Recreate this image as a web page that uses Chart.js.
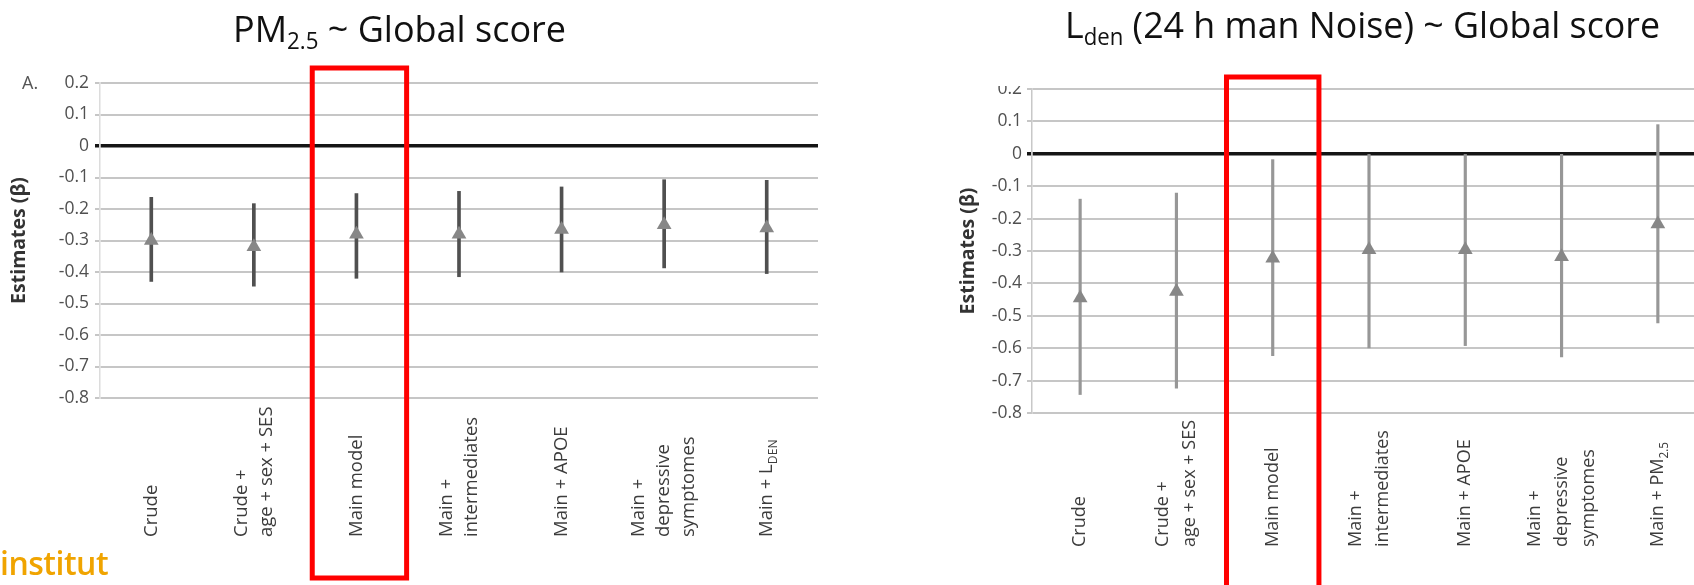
<!DOCTYPE html>
<html>
<head>
<meta charset="utf-8">
<script src="https://cdn.jsdelivr.net/npm/chart.js@4.4.1/dist/chart.umd.min.js"></script>
<style>
html, body { margin: 0; padding: 0; background: #fff; }
body { width: 1694px; height: 585px; overflow: hidden; position: relative; }
canvas { position: absolute; top: 0; }
#chartA { left: 0; }
#chartB { left: 850px; }
.ttl { position: absolute; font-family: "Open Sans", sans-serif; font-size: 37px; color: #111; white-space: nowrap; line-height: 1; transform-origin: 0 0; }
.ttl sub { font-size: 0.62em; vertical-align: -0.32em; line-height: 0; }
#ttlA { left: 233px; top: 9px; }
#ttlB { left: 1065px; top: 5px; }
#markA { position: absolute; left: 22px; top: 70px; font: 18px "Open Sans", sans-serif; color: #555; }
#inst { position: absolute; left: 0; top: 541px; font: 600 32px "Open Sans", sans-serif; color: #f0a400; letter-spacing: -0.5px; }
#cut { position: absolute; left: 930px; top: 60px; width: 100px; height: 26px; background: #fff; }
</style>
</head>
<body>
<canvas id="chartA" width="840" height="585"></canvas>
<canvas id="chartB" width="900" height="585"></canvas>
<div id="cut"></div>
<div class="ttl" id="ttlA" data-w="333">PM<sub>2.5</sub> ~ Global score</div>
<div class="ttl" id="ttlB" data-w="595">L<sub>den</sub> (24 h man Noise) ~ Global score</div>
<div id="markA">A.</div>
<div id="inst">institut</div>
<script>
// categories (one array per label, one string per line, _{..} = subscript)
const categoriesA = [["Crude"], ["Crude +", "age + sex + SES"], ["Main model"], ["Main +", "intermediates"], ["Main + APOE"], ["Main +", "depressive", "symptomes"], ["Main + L_{DEN}"]];
const categoriesB = [["Crude"], ["Crude +", "age + sex + SES"], ["Main model"], ["Main +", "intermediates"], ["Main + APOE"], ["Main +", "depressive", "symptomes"], ["Main + PM_{2.5}"]];

// PM2.5 estimates and 95% CI
const estimateA = [-0.30, -0.32, -0.28, -0.28, -0.265, -0.25, -0.26];
const lowerA = [-0.43, -0.445, -0.42, -0.415, -0.40, -0.387, -0.405];
const upperA = [-0.163, -0.183, -0.151, -0.144, -0.13, -0.107, -0.109];

// Lden estimates and 95% CI
const estimateB = [-0.445, -0.425, -0.322, -0.296, -0.296, -0.318, -0.217];
const lowerB = [-0.743, -0.723, -0.623, -0.599, -0.592, -0.627, -0.522];
const upperB = [-0.14, -0.121, -0.018, -0.002, -0.002, -0.002, 0.09];

// y axis
const yMin = -0.8, yMax = 0.2, yStep = 0.1;

// squeeze the titles to the width they have in the picture
document.querySelectorAll('.ttl').forEach(function(el) {
	const w = el.getBoundingClientRect().width;
	el.style.transform = 'scaleX(' + (el.dataset.w / w) + ')';
});

// draw text with _{sub} parts, at current origin
function drawRich(ctx, text, size) {
	let x = 0;
	text.split(/(_\{[^}]*\})/).forEach(function(part) {
		if (!part) return;
		let t = part;
		if (part.startsWith("_{")) {
			t = part.slice(2, -1);
			ctx.font = (size * 0.66) + 'px "Open Sans", sans-serif';
			ctx.fillText(t, x, size * 0.35);
		} else {
			ctx.font = size + 'px "Open Sans", sans-serif';
			ctx.fillText(t, x, 0);
		}
		x += ctx.measureText(t).width;
	});
}

// rotated x labels and the red box
const decor = {
	id: 'decor',
	afterDraw(chart, args, opts) {
		const ctx = chart.ctx, xs = chart.scales.x;
		ctx.save();
		ctx.fillStyle = '#3c3c3c';
		ctx.textAlign = 'left';
		ctx.textBaseline = 'middle';
		chart.data.labels.forEach(function(lines, i) {
			const x = xs.getPixelForTick(i);
			lines.forEach(function(line, j) {
				ctx.save();
				ctx.translate(x + (j - (lines.length - 1) / 2) * opts.lineHeight, opts.baseY);
				ctx.rotate(-Math.PI / 2);
				drawRich(ctx, line, opts.fontSize);
				ctx.restore();
			});
		});
		const band = xs.getPixelForTick(1) - xs.getPixelForTick(0);
		const c = xs.getPixelForTick(opts.boxIndex) + opts.boxShift;
		const half = band * opts.boxHalf;
		ctx.strokeStyle = '#ff0000';
		ctx.lineWidth = 5;
		ctx.strokeRect(c - half, opts.boxTop, half * 2, opts.boxBottom - opts.boxTop);
		ctx.restore();
	}
};

function buildChart(id, labels, est, lo, hi, look) {
	const ranges = lo.map(function(v, i) { return [v, hi[i]]; });
	return new Chart(document.getElementById(id), {
		type: 'bar',
		data: {
			labels: labels,
			datasets: [{
				type: 'line',
				data: est,
				showLine: false,
				pointStyle: 'triangle',
				pointRadius: 8.5,
				pointBackgroundColor: '#878787',
				pointBorderWidth: 0,
				order: 0
			}, {
				data: ranges,
				backgroundColor: look.barColor,
				barThickness: look.barWidth,
				order: 1
			}]
		},
		options: {
			responsive: false,
			animation: false,
			devicePixelRatio: 1,
			layout: { padding: { left: 0, top: look.top, right: look.right, bottom: 0 } },
			plugins: {
				legend: { display: false },
				tooltip: { enabled: false },
				decor: look.decor
			},
			scales: {
				x: {
					grid: { display: false },
					border: { display: false },
					ticks: { display: false },
					afterFit: function(s) { s.height = look.xHeight; }
				},
				y: {
					min: yMin,
					max: yMax,
					afterFit: function(s) { s.width = look.yWidth; },
					ticks: {
						stepSize: yStep,
						padding: look.tickPad,
						color: '#505050',
						font: { family: '"Open Sans", sans-serif', size: 17.5 },
						callback: function(v) { return Math.abs(v) < 1e-9 ? '0' : v.toFixed(1); }
					},
					grid: {
						tickLength: 5,
						color: function(c) { return Math.abs(c.tick.value) < 1e-9 ? '#151515' : '#c6c6c6'; },
						lineWidth: function(c) { return Math.abs(c.tick.value) < 1e-9 ? 3.5 : 2; }
					},
					border: { display: true, color: look.axisColor, width: 1.5 },
					title: {
						display: true,
						text: 'Estimates (β)',
						color: '#333',
						font: { family: '"Open Sans", sans-serif', size: 19.5, weight: 'bold' },
						padding: { top: look.titlePad, bottom: 0 }
					}
				}
			}
		},
		plugins: [decor]
	});
}

buildChart('chartA', categoriesA, estimateA, lowerA, upperA, {
	barColor: '#505050', barWidth: 3, top: 83, right: 22, xHeight: 187, yWidth: 100,
	tickPad: 6, axisColor: '#dcdcdc', titlePad: 8,
	decor: { baseY: 537, lineHeight: 25, fontSize: 18.5, boxIndex: 2, boxShift: 3, boxHalf: 0.46, boxTop: 68, boxBottom: 578 }
});

buildChart('chartB', categoriesB, estimateB, lowerB, upperB, {
	barColor: '#979797', barWidth: 2.5, top: 89, right: 44, xHeight: 172, yWidth: 182,
	tickPad: 5, axisColor: '#c8c8c8', titlePad: 107,
	decor: { baseY: 547, lineHeight: 27, fontSize: 18, boxIndex: 2, boxShift: 0, boxHalf: 0.48, boxTop: 77, boxBottom: 600 }
});
</script>
</body>
</html>
